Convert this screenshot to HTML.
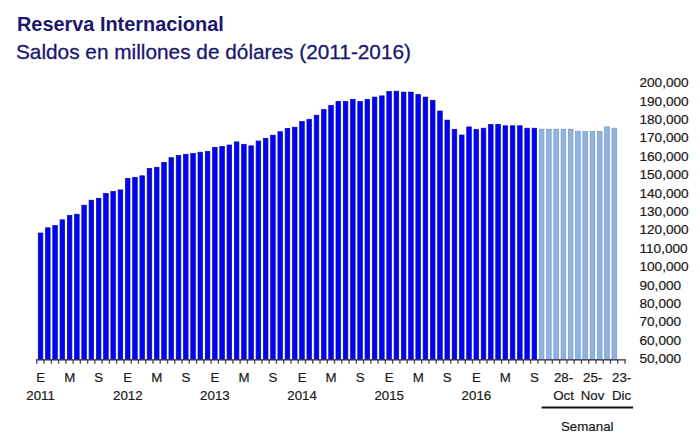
<!DOCTYPE html>
<html><head><meta charset="utf-8">
<style>
html,body{margin:0;padding:0;background:#fff;}
body{width:700px;height:441px;overflow:hidden;position:relative;font-family:"Liberation Sans",sans-serif;}
.t1{position:absolute;left:17px;top:13px;font-size:19.9px;font-weight:bold;color:#1a176e;white-space:nowrap;transform-origin:0 0;}
.t2{position:absolute;left:16px;top:40px;font-size:20.8px;color:#1a176e;-webkit-text-stroke:0.3px #1a176e;white-space:nowrap;transform-origin:0 0;}
.yl{position:absolute;left:639.5px;font-size:13.6px;line-height:16px;color:#1a1a1a;-webkit-text-stroke:0.2px #1a1a1a;white-space:nowrap;}
.xl{position:absolute;width:40px;text-align:center;font-size:13.3px;line-height:16px;color:#1a1a1a;-webkit-text-stroke:0.2px #1a1a1a;white-space:nowrap;}
.sem{position:absolute;left:561px;top:418.5px;font-size:13.3px;line-height:16px;color:#1a1a1a;-webkit-text-stroke:0.2px #1a1a1a;}
svg{position:absolute;left:0;top:0;}
</style></head><body>
<div class="t1">Reserva Internacional</div>
<div class="t2">Saldos en millones de dólares (2011-2016)</div>
<svg width="700" height="441" viewBox="0 0 700 441">
<rect x="38.25" y="233.0" width="4.6" height="126.3" fill="#0000ff" stroke="#0c0c96" stroke-width="0.7"/><rect x="45.51" y="227.8" width="4.6" height="131.5" fill="#0000ff" stroke="#0c0c96" stroke-width="0.7"/><rect x="52.77" y="225.4" width="4.6" height="133.9" fill="#0000ff" stroke="#0c0c96" stroke-width="0.7"/><rect x="60.04" y="219.8" width="4.6" height="139.5" fill="#0000ff" stroke="#0c0c96" stroke-width="0.7"/><rect x="67.30" y="215.3" width="4.6" height="144.0" fill="#0000ff" stroke="#0c0c96" stroke-width="0.7"/><rect x="74.56" y="214.2" width="4.6" height="145.2" fill="#0000ff" stroke="#0c0c96" stroke-width="0.7"/><rect x="81.82" y="205.2" width="4.6" height="154.1" fill="#0000ff" stroke="#0c0c96" stroke-width="0.7"/><rect x="89.08" y="200.2" width="4.6" height="159.1" fill="#0000ff" stroke="#0c0c96" stroke-width="0.7"/><rect x="96.35" y="198.3" width="4.6" height="161.0" fill="#0000ff" stroke="#0c0c96" stroke-width="0.7"/><rect x="103.61" y="193.4" width="4.6" height="165.9" fill="#0000ff" stroke="#0c0c96" stroke-width="0.7"/><rect x="110.87" y="191.4" width="4.6" height="167.9" fill="#0000ff" stroke="#0c0c96" stroke-width="0.7"/><rect x="118.13" y="189.9" width="4.6" height="169.4" fill="#0000ff" stroke="#0c0c96" stroke-width="0.7"/><rect x="125.39" y="178.4" width="4.6" height="180.9" fill="#0000ff" stroke="#0c0c96" stroke-width="0.7"/><rect x="132.66" y="177.3" width="4.6" height="182.0" fill="#0000ff" stroke="#0c0c96" stroke-width="0.7"/><rect x="139.92" y="175.8" width="4.6" height="183.6" fill="#0000ff" stroke="#0c0c96" stroke-width="0.7"/><rect x="147.18" y="168.4" width="4.6" height="190.9" fill="#0000ff" stroke="#0c0c96" stroke-width="0.7"/><rect x="154.44" y="167.3" width="4.6" height="192.0" fill="#0000ff" stroke="#0c0c96" stroke-width="0.7"/><rect x="161.70" y="162.4" width="4.6" height="196.9" fill="#0000ff" stroke="#0c0c96" stroke-width="0.7"/><rect x="168.97" y="157.7" width="4.6" height="201.7" fill="#0000ff" stroke="#0c0c96" stroke-width="0.7"/><rect x="176.23" y="155.5" width="4.6" height="203.8" fill="#0000ff" stroke="#0c0c96" stroke-width="0.7"/><rect x="183.49" y="154.3" width="4.6" height="205.0" fill="#0000ff" stroke="#0c0c96" stroke-width="0.7"/><rect x="190.75" y="153.4" width="4.6" height="205.9" fill="#0000ff" stroke="#0c0c96" stroke-width="0.7"/><rect x="198.01" y="152.2" width="4.6" height="207.1" fill="#0000ff" stroke="#0c0c96" stroke-width="0.7"/><rect x="205.28" y="151.3" width="4.6" height="208.0" fill="#0000ff" stroke="#0c0c96" stroke-width="0.7"/><rect x="212.54" y="147.3" width="4.6" height="212.0" fill="#0000ff" stroke="#0c0c96" stroke-width="0.7"/><rect x="219.80" y="146.5" width="4.6" height="212.8" fill="#0000ff" stroke="#0c0c96" stroke-width="0.7"/><rect x="227.06" y="145.0" width="4.6" height="214.3" fill="#0000ff" stroke="#0c0c96" stroke-width="0.7"/><rect x="234.32" y="141.9" width="4.6" height="217.4" fill="#0000ff" stroke="#0c0c96" stroke-width="0.7"/><rect x="241.59" y="144.3" width="4.6" height="215.0" fill="#0000ff" stroke="#0c0c96" stroke-width="0.7"/><rect x="248.85" y="145.8" width="4.6" height="213.6" fill="#0000ff" stroke="#0c0c96" stroke-width="0.7"/><rect x="256.11" y="141.0" width="4.6" height="218.3" fill="#0000ff" stroke="#0c0c96" stroke-width="0.7"/><rect x="263.37" y="138.3" width="4.6" height="221.0" fill="#0000ff" stroke="#0c0c96" stroke-width="0.7"/><rect x="270.63" y="135.2" width="4.6" height="224.2" fill="#0000ff" stroke="#0c0c96" stroke-width="0.7"/><rect x="277.90" y="131.7" width="4.6" height="227.7" fill="#0000ff" stroke="#0c0c96" stroke-width="0.7"/><rect x="285.16" y="128.4" width="4.6" height="230.9" fill="#0000ff" stroke="#0c0c96" stroke-width="0.7"/><rect x="292.42" y="127.2" width="4.6" height="232.1" fill="#0000ff" stroke="#0c0c96" stroke-width="0.7"/><rect x="299.68" y="121.6" width="4.6" height="237.7" fill="#0000ff" stroke="#0c0c96" stroke-width="0.7"/><rect x="306.94" y="119.3" width="4.6" height="240.0" fill="#0000ff" stroke="#0c0c96" stroke-width="0.7"/><rect x="314.21" y="115.2" width="4.6" height="244.1" fill="#0000ff" stroke="#0c0c96" stroke-width="0.7"/><rect x="321.47" y="109.5" width="4.6" height="249.8" fill="#0000ff" stroke="#0c0c96" stroke-width="0.7"/><rect x="328.73" y="105.3" width="4.6" height="254.0" fill="#0000ff" stroke="#0c0c96" stroke-width="0.7"/><rect x="335.99" y="101.3" width="4.6" height="258.0" fill="#0000ff" stroke="#0c0c96" stroke-width="0.7"/><rect x="343.25" y="101.4" width="4.6" height="257.9" fill="#0000ff" stroke="#0c0c96" stroke-width="0.7"/><rect x="350.52" y="99.3" width="4.6" height="260.0" fill="#0000ff" stroke="#0c0c96" stroke-width="0.7"/><rect x="357.78" y="101.4" width="4.6" height="257.9" fill="#0000ff" stroke="#0c0c96" stroke-width="0.7"/><rect x="365.04" y="99.3" width="4.6" height="260.0" fill="#0000ff" stroke="#0c0c96" stroke-width="0.7"/><rect x="372.30" y="97.1" width="4.6" height="262.2" fill="#0000ff" stroke="#0c0c96" stroke-width="0.7"/><rect x="379.56" y="95.9" width="4.6" height="263.4" fill="#0000ff" stroke="#0c0c96" stroke-width="0.7"/><rect x="386.83" y="91.4" width="4.6" height="267.9" fill="#0000ff" stroke="#0c0c96" stroke-width="0.7"/><rect x="394.09" y="91.2" width="4.6" height="268.1" fill="#0000ff" stroke="#0c0c96" stroke-width="0.7"/><rect x="401.35" y="92.1" width="4.6" height="267.2" fill="#0000ff" stroke="#0c0c96" stroke-width="0.7"/><rect x="408.61" y="92.1" width="4.6" height="267.2" fill="#0000ff" stroke="#0c0c96" stroke-width="0.7"/><rect x="415.87" y="94.4" width="4.6" height="264.9" fill="#0000ff" stroke="#0c0c96" stroke-width="0.7"/><rect x="423.14" y="97.1" width="4.6" height="262.2" fill="#0000ff" stroke="#0c0c96" stroke-width="0.7"/><rect x="430.40" y="100.3" width="4.6" height="259.0" fill="#0000ff" stroke="#0c0c96" stroke-width="0.7"/><rect x="437.66" y="111.0" width="4.6" height="248.3" fill="#0000ff" stroke="#0c0c96" stroke-width="0.7"/><rect x="444.92" y="120.1" width="4.6" height="239.2" fill="#0000ff" stroke="#0c0c96" stroke-width="0.7"/><rect x="452.18" y="129.3" width="4.6" height="230.0" fill="#0000ff" stroke="#0c0c96" stroke-width="0.7"/><rect x="459.45" y="135.0" width="4.6" height="224.3" fill="#0000ff" stroke="#0c0c96" stroke-width="0.7"/><rect x="466.71" y="126.9" width="4.6" height="232.4" fill="#0000ff" stroke="#0c0c96" stroke-width="0.7"/><rect x="473.97" y="129.3" width="4.6" height="230.0" fill="#0000ff" stroke="#0c0c96" stroke-width="0.7"/><rect x="481.23" y="128.2" width="4.6" height="231.1" fill="#0000ff" stroke="#0c0c96" stroke-width="0.7"/><rect x="488.49" y="124.5" width="4.6" height="234.8" fill="#0000ff" stroke="#0c0c96" stroke-width="0.7"/><rect x="495.76" y="124.4" width="4.6" height="234.9" fill="#0000ff" stroke="#0c0c96" stroke-width="0.7"/><rect x="503.02" y="125.8" width="4.6" height="233.6" fill="#0000ff" stroke="#0c0c96" stroke-width="0.7"/><rect x="510.28" y="125.8" width="4.6" height="233.6" fill="#0000ff" stroke="#0c0c96" stroke-width="0.7"/><rect x="517.54" y="125.8" width="4.6" height="233.6" fill="#0000ff" stroke="#0c0c96" stroke-width="0.7"/><rect x="524.80" y="128.2" width="4.6" height="231.1" fill="#0000ff" stroke="#0c0c96" stroke-width="0.7"/><rect x="532.07" y="128.2" width="4.6" height="231.1" fill="#0000ff" stroke="#0c0c96" stroke-width="0.7"/><rect x="539.33" y="129.2" width="4.6" height="230.1" fill="#8eb4e3" stroke="#7496c8" stroke-width="0.7"/><rect x="546.59" y="129.2" width="4.6" height="230.1" fill="#8eb4e3" stroke="#7496c8" stroke-width="0.7"/><rect x="553.85" y="129.2" width="4.6" height="230.1" fill="#8eb4e3" stroke="#7496c8" stroke-width="0.7"/><rect x="561.11" y="129.2" width="4.6" height="230.1" fill="#8eb4e3" stroke="#7496c8" stroke-width="0.7"/><rect x="568.38" y="129.2" width="4.6" height="230.1" fill="#8eb4e3" stroke="#7496c8" stroke-width="0.7"/><rect x="575.64" y="131.2" width="4.6" height="228.1" fill="#8eb4e3" stroke="#7496c8" stroke-width="0.7"/><rect x="582.90" y="131.4" width="4.6" height="227.9" fill="#8eb4e3" stroke="#7496c8" stroke-width="0.7"/><rect x="590.16" y="131.4" width="4.6" height="227.9" fill="#8eb4e3" stroke="#7496c8" stroke-width="0.7"/><rect x="597.42" y="131.4" width="4.6" height="227.9" fill="#8eb4e3" stroke="#7496c8" stroke-width="0.7"/><rect x="604.69" y="126.8" width="4.6" height="232.5" fill="#8eb4e3" stroke="#7496c8" stroke-width="0.7"/><rect x="611.95" y="128.2" width="4.6" height="231.1" fill="#8eb4e3" stroke="#7496c8" stroke-width="0.7"/>
<path d="M36.80 359.8V363.8M44.06 359.8V363.8M51.32 359.8V363.8M58.59 359.8V363.8M65.85 359.8V363.8M73.11 359.8V363.8M80.37 359.8V363.8M87.63 359.8V363.8M94.90 359.8V363.8M102.16 359.8V363.8M109.42 359.8V363.8M116.68 359.8V363.8M123.94 359.8V363.8M131.21 359.8V363.8M138.47 359.8V363.8M145.73 359.8V363.8M152.99 359.8V363.8M160.25 359.8V363.8M167.52 359.8V363.8M174.78 359.8V363.8M182.04 359.8V363.8M189.30 359.8V363.8M196.56 359.8V363.8M203.83 359.8V363.8M211.09 359.8V363.8M218.35 359.8V363.8M225.61 359.8V363.8M232.87 359.8V363.8M240.14 359.8V363.8M247.40 359.8V363.8M254.66 359.8V363.8M261.92 359.8V363.8M269.18 359.8V363.8M276.45 359.8V363.8M283.71 359.8V363.8M290.97 359.8V363.8M298.23 359.8V363.8M305.49 359.8V363.8M312.76 359.8V363.8M320.02 359.8V363.8M327.28 359.8V363.8M334.54 359.8V363.8M341.80 359.8V363.8M349.07 359.8V363.8M356.33 359.8V363.8M363.59 359.8V363.8M370.85 359.8V363.8M378.11 359.8V363.8M385.38 359.8V363.8M392.64 359.8V363.8M399.90 359.8V363.8M407.16 359.8V363.8M414.42 359.8V363.8M421.69 359.8V363.8M428.95 359.8V363.8M436.21 359.8V363.8M443.47 359.8V363.8M450.73 359.8V363.8M458.00 359.8V363.8M465.26 359.8V363.8M472.52 359.8V363.8M479.78 359.8V363.8M487.04 359.8V363.8M494.31 359.8V363.8M501.57 359.8V363.8M508.83 359.8V363.8M516.09 359.8V363.8M523.35 359.8V363.8M530.62 359.8V363.8M537.88 359.8V363.8M545.14 359.8V363.8M552.40 359.8V363.8M559.66 359.8V363.8M566.93 359.8V363.8M574.19 359.8V363.8M581.45 359.8V363.8M588.71 359.8V363.8M595.97 359.8V363.8M603.24 359.8V363.8M610.50 359.8V363.8M617.76 359.8V363.8M625.02 359.8V363.8" stroke="#555" stroke-width="1.4" fill="none"/>
<path d="M36.1 359.8H625.7" stroke="#2a2a40" stroke-width="1.2" fill="none"/>
<path d="M541.6 407.5H633.1" stroke="#111" stroke-width="2" fill="none"/>
</svg>
<div class="yl" style="top:351.1px">50,000</div><div class="yl" style="top:332.7px">60,000</div><div class="yl" style="top:314.3px">70,000</div><div class="yl" style="top:295.9px">80,000</div><div class="yl" style="top:277.5px">90,000</div><div class="yl" style="top:259.1px">100,000</div><div class="yl" style="top:240.7px">110,000</div><div class="yl" style="top:222.3px">120,000</div><div class="yl" style="top:203.9px">130,000</div><div class="yl" style="top:185.5px">140,000</div><div class="yl" style="top:167.1px">150,000</div><div class="yl" style="top:148.7px">160,000</div><div class="yl" style="top:130.3px">170,000</div><div class="yl" style="top:111.9px">180,000</div><div class="yl" style="top:93.5px">190,000</div><div class="yl" style="top:75.1px">200,000</div>
<div class="xl" style="left:20.6px;top:370px">E</div><div class="xl" style="left:20.6px;top:387.5px">2011</div><div class="xl" style="left:49.7px;top:370px">M</div><div class="xl" style="left:78.7px;top:370px">S</div><div class="xl" style="left:107.8px;top:370px">E</div><div class="xl" style="left:107.8px;top:387.5px">2012</div><div class="xl" style="left:136.8px;top:370px">M</div><div class="xl" style="left:165.9px;top:370px">S</div><div class="xl" style="left:194.9px;top:370px">E</div><div class="xl" style="left:194.9px;top:387.5px">2013</div><div class="xl" style="left:224.0px;top:370px">M</div><div class="xl" style="left:253.0px;top:370px">S</div><div class="xl" style="left:282.1px;top:370px">E</div><div class="xl" style="left:282.1px;top:387.5px">2014</div><div class="xl" style="left:311.1px;top:370px">M</div><div class="xl" style="left:340.2px;top:370px">S</div><div class="xl" style="left:369.2px;top:370px">E</div><div class="xl" style="left:369.2px;top:387.5px">2015</div><div class="xl" style="left:398.3px;top:370px">M</div><div class="xl" style="left:427.3px;top:370px">S</div><div class="xl" style="left:456.4px;top:370px">E</div><div class="xl" style="left:456.4px;top:387.5px">2016</div><div class="xl" style="left:485.4px;top:370px">M</div><div class="xl" style="left:514.5px;top:370px">S</div><div class="xl" style="left:543.5px;top:370px">28-</div><div class="xl" style="left:543.5px;top:387.5px">Oct</div><div class="xl" style="left:572.6px;top:370px">25-</div><div class="xl" style="left:572.6px;top:387.5px">Nov</div><div class="xl" style="left:601.6px;top:370px">23-</div><div class="xl" style="left:601.6px;top:387.5px">Dic</div>
<div class="sem">Semanal</div>
</body></html>
